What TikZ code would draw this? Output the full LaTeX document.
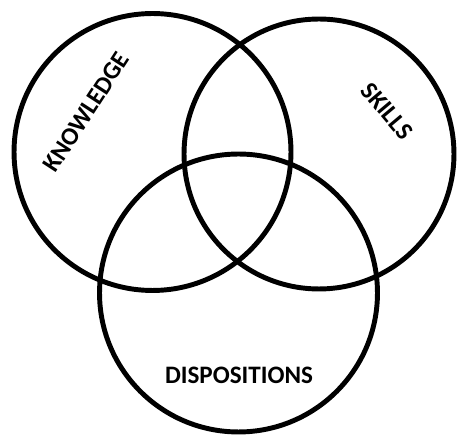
\documentclass[tikz,border=0pt]{standalone}
\usepackage{fontspec}
\setmainfont{Carlito}
\usetikzlibrary{positioning}
\tikzset{
  setcircle/.style={
    draw=black, line width=2.8pt,
    circle, inner sep=0pt,
    minimum size=#1
  },
  setlabel/.style={
    font=\fontsize{14.3}{16}\selectfont\bfseries,
    text=black,
    inner sep=0pt
  }
}

\begin{document}
\begin{tikzpicture}[x=0.02cm, y=-0.02cm]
  \useasboundingbox (0,0) rectangle (457,435);
  % the three sets
  \node[setcircle=5.54cm] (know) at (152.5,152) {};
  \node[setcircle=5.40cm] (skill) at (319,154) {};
  \node[setcircle=5.56cm] (disp) at (238.5,293) {};
  % labels
  \node[setlabel, rotate=57] (knowtxt) at (86,112) {KNOWLEDGE};
  \node[setlabel, rotate=-50] (skilltxt) at (387,111) {SKILLS};
  \node[setlabel] (disptxt) at (239,375) {DISPOSITIONS};
\end{tikzpicture}
\end{document}
